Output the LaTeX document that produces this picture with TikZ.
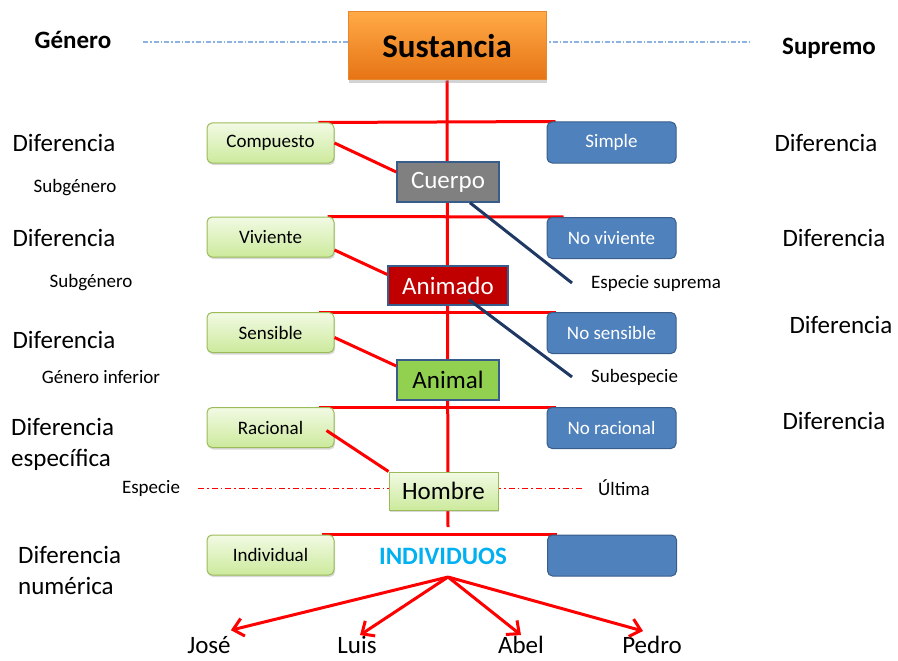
\documentclass[tikz,border=0pt]{standalone}
\usepackage{fontspec}
\setmainfont{Carlito}
\usetikzlibrary{arrows.meta,backgrounds,shadows}

\definecolor{rojo}    {RGB}{255,0,0}
\definecolor{marino}  {RGB}{31,56,100}
\definecolor{celeste} {RGB}{141,179,226}
\definecolor{verdeb}  {RGB}{155,187,89}
\definecolor{verdet}  {RGB}{242,250,228}
\definecolor{verdeu}  {RGB}{204,234,156}
\definecolor{azulc}   {RGB}{79,129,189}
\definecolor{azulb}   {RGB}{56,93,138}
\definecolor{gris}    {RGB}{128,128,128}
\definecolor{granate} {RGB}{192,0,0}
\definecolor{verdeani}{RGB}{146,208,80}
\definecolor{narant}  {RGB}{255,170,70}
\definecolor{naranu}  {RGB}{230,115,20}
\definecolor{naranb}  {RGB}{232,134,44}
\definecolor{cian}    {RGB}{0,176,240}

\newcommand\chica{\fontsize{19}{23}\selectfont}
\newcommand\grande{\fontsize{25}{31}\selectfont}

\begin{document}
\begin{tikzpicture}[x=1pt,y=-1pt,
    caja/.style={draw=verdeb,line width=1pt,rounded corners=5pt,top color=verdet,bottom color=verdeu,
      minimum width=127pt,minimum height=40pt,font=\chica,
      drop shadow={shadow xshift=1pt,shadow yshift=-2pt,opacity=.3}},
    azul/.style={draw=azulb,line width=1pt,rounded corners=5pt,fill=azulc,text=white,
      minimum width=129pt,minimum height=41pt,font=\chica},
    centro/.style={draw=azulb,line width=1.5pt,minimum height=40pt,font=\grande},
    rama/.style={draw=rojo,line width=3pt},
    guia/.style={draw=marino,line width=3pt},
    flecha/.style={draw=rojo,line width=3pt,-{Straight Barb[length=10pt,width=18pt]}},
    etiq/.style={inner sep=0pt,font=\chica},
    dif/.style={inner sep=0pt,font=\grande}]

  \useasboundingbox (0,0) rectangle (898,661);

  % cabecera
  \node[draw=naranb,line width=1pt,top color=narant,bottom color=naranu,
        minimum width=198pt,minimum height=68pt,font=\bfseries\fontsize{33}{40}\selectfont,
        drop shadow={shadow xshift=1pt,shadow yshift=-3pt,opacity=.35}] (sust) at (447,46) {Sustancia};
  \node[dif,font=\bfseries\grande] (gen) at (73,40) {Género};
  \node[dif,font=\bfseries\grande] (sup) at (829,48) {Supremo};

  % cajas de la izquierda
  \node[caja] (comp) at (270.5,143) {Compuesto};
  \node[caja] (viv) at (270.5,237) {Viviente};
  \node[caja] (sens) at (270.5,332.5) {Sensible};
  \node[caja] (rac) at (270.5,427.5) {Racional};
  \node[caja] (indbox) at (270.5,555) {Individual};

  % cajas de la derecha
  \node[azul] (simp) at (611.5,142.5) {Simple};
  \node[azul] (noviv) at (611.5,238) {No viviente};
  \node[azul] (nosens) at (611.5,333) {No sensible};
  \node[azul] (norac) at (611.5,428) {No racional};
  \node[azul] (vacio) at (612,555.5) {};

  % eje central
  \node[centro,fill=gris,text=white,minimum width=102pt] (cuer) at (448,182) {Cuerpo};
  \node[centro,fill=granate,text=white,minimum width=120pt,minimum height=39pt] (anim) at (448,285.5) {Animado};
  \node[centro,fill=verdeani,minimum width=102pt] (animal) at (448,380) {Animal};
  \node[caja,font=\grande,minimum width=109pt,minimum height=38pt,rounded corners=0pt] (homb) at (443.5,491) {Hombre};
  \node[dif,font=\bfseries\grande,text=cian] (indiv) at (443,556) {INDIVIDUOS};
  \coordinate (fin) at (448,527);
  \coordinate (orig) at (448,577);

  % textos laterales
  \node[dif] (d1) at (64,143) {Diferencia};
  \node[dif] (d2) at (64,238) {Diferencia};
  \node[dif] (d3) at (64,340) {Diferencia};
  \node[dif,align=left,anchor=west] (d4) at (11,444) {Diferencia\\específica};
  \node[dif,align=left,anchor=west] (d5) at (18,570) {Diferencia\\numérica};
  \node[dif] (e1) at (826,143) {Diferencia};
  \node[dif] (e2) at (834,238) {Diferencia};
  \node[dif] (e3) at (841,325) {Diferencia};
  \node[dif] (e4) at (834,421) {Diferencia};

  \node[etiq] (sg1) at (75,188) {Subgénero};
  \node[etiq] (sg2) at (91,283) {Subgénero};
  \node[etiq] (ginf) at (101,377) {Género inferior};
  \node[etiq] (espe) at (151,488) {Especie};
  \node[etiq,anchor=west] (esp) at (591,283) {Especie suprema};
  \node[etiq,anchor=west] (sube) at (591,377) {Subespecie};
  \node[etiq,anchor=west] (ult) at (598,488) {Última};

  % individuos
  \node[dif] (jose) at (209,645) {José};
  \node[dif] (luis) at (357,645) {Luis};
  \node[dif] (abel) at (521,645) {Abel};
  \node[dif] (pedro) at (652,645) {Pedro};

  \begin{scope}[on background layer]
    \draw[celeste,line width=1.2pt,dash pattern=on 5pt off 2pt on 1.5pt off 2pt] (143,42) -- (750,42);
    \draw[rojo,line width=1pt,dash pattern=on 6pt off 3pt on 1.5pt off 3pt] (198,488) -- (583,488);
    \draw[rama] (sust.south) -- (fin);
    \foreach \l/\r/\a/\b in {comp/simp/16/9, viv/noviv/7/17, sens/nosens/16/9, rac/norac/16/9, indbox/vacio/13/10}
      \draw[rama] ([xshift=-\a pt]\l.north east) -- ([xshift=\b pt]\r.north west);
  \end{scope}

  \draw[rama] (comp.east) -- ([yshift=10pt]cuer.west);
  \draw[rama] ([yshift=-13pt]viv.east) -- ([yshift=11pt]anim.west);
  \draw[rama] ([yshift=-5pt]sens.east) -- ([yshift=14pt]animal.west);
  \draw[rama] ([xshift=-8pt,yshift=-3pt]rac.east) -- (homb.north west);

  \draw[guia] ([xshift=22pt]cuer.south) -- ([xshift=-19pt]esp.west);
  \draw[guia] ([xshift=21pt,yshift=6pt]anim.south) -- ([xshift=-19pt]sube.west);

  \draw[flecha] (orig) -- ([yshift=6pt]jose.north east);
  \draw[flecha] (orig) -- ([xshift=3pt,yshift=1pt]luis.north);
  \draw[flecha] (orig) -- ([yshift=1pt]abel.north);
  \draw[flecha] (orig) -- ([xshift=-9pt,yshift=5pt]pedro.north);

\end{tikzpicture}
\end{document}
